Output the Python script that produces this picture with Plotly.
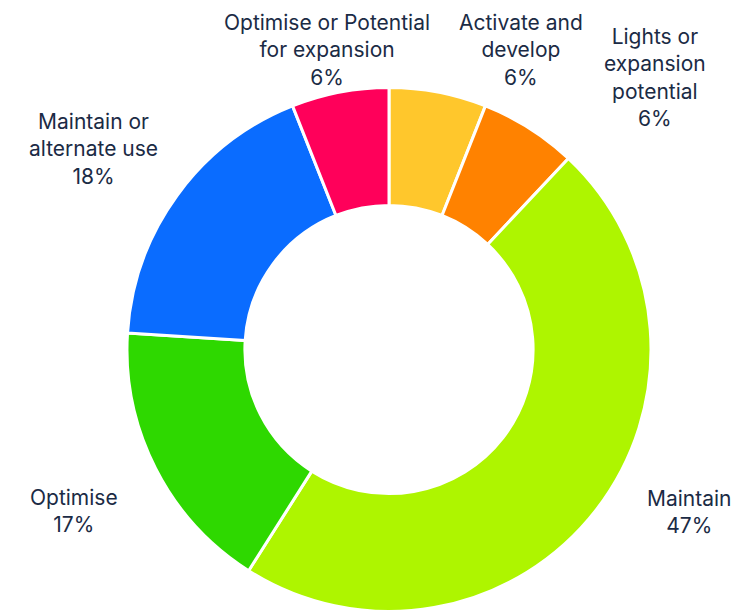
import plotly.graph_objects as go

labels = ["Activate and<br>develop", "Lights or<br>expansion<br>potential", "Maintain",
          "Optimise", "Maintain or<br>alternate use", "Optimise or Potential<br>for expansion"]
values = [6, 6, 47, 17, 18, 6]
pct_labels = ["6%", "6%", "47%", "17%", "18%", "6%"]
colors = ["#FFC72C", "#FF8200", "#AEF500", "#2ED800", "#0A6CFF", "#FF005A"]

# label anchor positions in pixels (centre of text block), as seen in the page
label_px = [(521, 50), (655, 77.5), (689, 511.5), (73.5, 510.5), (93, 149), (326.5, 50)]

W, H = 751, 612
OFF = 8  # default body margin of the page
CX, CY, R = 389 - OFF, 349.5 - OFF, 262

fig = go.Figure(go.Pie(
    labels=labels,
    values=values,
    textinfo="none",
    hole=0.55,
    sort=False,
    direction="clockwise",
    rotation=0,
    marker=dict(colors=colors, line=dict(color="white", width=3)),
    domain=dict(x=[(CX - R) / W, (CX + R) / W], y=[(H - CY - R) / H, (H - CY + R) / H]),
    showlegend=False,
    hoverinfo="label+text",
    text=pct_labels,
))

for lab, pct, (px, py) in zip(labels, pct_labels, label_px):
    fig.add_annotation(
        text=f"{lab}<br>{pct}",
        x=(px - OFF) / W, y=1 - (py - OFF) / H, xref="paper", yref="paper",
        xanchor="center", yanchor="middle", showarrow=False,
        align="center",
        font=dict(family="Inter", size=21, color="#1B2B45"),
    )

fig.update_layout(
    width=W, height=H,
    margin=dict(l=0, r=0, t=0, b=0),
    paper_bgcolor="white",
)
fig.write_html("out.html")
